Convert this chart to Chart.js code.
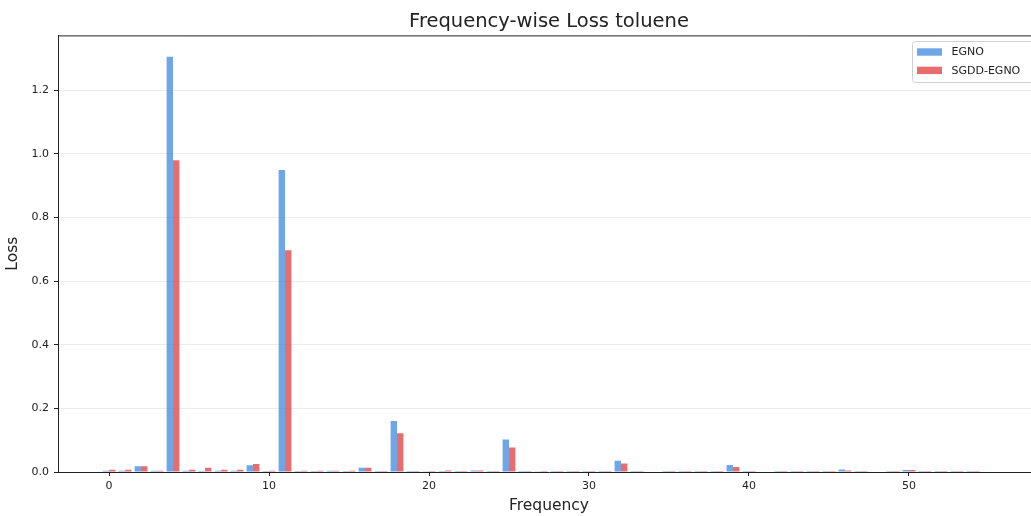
<!DOCTYPE html>
<html>
<head>
<meta charset="utf-8">
<script src="https://cdn.jsdelivr.net/npm/chart.js@4/dist/chart.umd.min.js"></script>
<style>
  html, body { margin: 0; padding: 0; background: #fff; overflow: hidden; }
  #wrap { width: 1040px; height: 516px; position: relative; }
</style>
</head>
<body>
<div id="wrap"><canvas id="chart"></canvas></div>
<script>
// frequency index 0..55, loss per frequency
const frequencies = [
  0, 1, 2, 3, 4, 5, 6, 7, 8, 9,
  10, 11, 12, 13, 14, 15, 16, 17, 18, 19,
  20, 21, 22, 23, 24, 25, 26, 27, 28, 29,
  30, 31, 32, 33, 34, 35, 36, 37, 38, 39,
  40, 41, 42, 43, 44, 45, 46, 47, 48, 49,
  50, 51, 52, 53, 54, 55,
];
const egnoLoss = [
  0.004, 0.004, 0.018, 0.004, 1.305, 0.004, 0.003, 0.004, 0.004, 0.021,
  0.003, 0.949, 0.003, 0.003, 0.004, 0.003, 0.013, 0.003, 0.160, 0.003,
  0.001, 0.003, 0.003, 0.005, 0.003, 0.102, 0.003, 0.002, 0.003, 0.003,
  0.003, 0.003, 0.035, 0.003, 0.000, 0.003, 0.003, 0.003, 0.003, 0.022,
  0.003, 0.000, 0.003, 0.003, 0.003, 0.003, 0.008, 0.003, 0.000, 0.003,
  0.006, 0.003, 0.003, 0.003, 0.003, 0.000,
];
const sgddLoss = [
  0.007, 0.007, 0.018, 0.004, 0.980, 0.007, 0.013, 0.007, 0.007, 0.025,
  0.004, 0.697, 0.004, 0.004, 0.004, 0.004, 0.013, 0.003, 0.122, 0.003,
  0.003, 0.005, 0.003, 0.005, 0.003, 0.077, 0.003, 0.003, 0.003, 0.003,
  0.003, 0.003, 0.027, 0.003, 0.000, 0.003, 0.003, 0.003, 0.003, 0.016,
  0.003, 0.000, 0.003, 0.003, 0.003, 0.003, 0.005, 0.003, 0.000, 0.003,
  0.006, 0.003, 0.003, 0.003, 0.003, 0.000,
];
const seriesNames = ['EGNO', 'SGDD-EGNO'];
const xTicks = [0, 10, 20, 30, 40, 50];
const yTicks = [0, 0.2, 0.4, 0.6, 0.8, 1.0, 1.2];

const COLORS = {
  egno: 'rgba(74, 144, 226, 0.8)',
  sgdd: 'rgba(226, 74, 74, 0.8)',
};
const FONT = 'DejaVu Sans';
const INK = '#222';

const toPoints = (vals) => vals.map((v, i) => ({ x: frequencies[i], y: v }));

// top/right spines + matplotlib style legend box
const framePlugin = {
  id: 'frame',
  afterDraw(chart) {
    const { ctx, chartArea: a } = chart;
    ctx.save();
    ctx.strokeStyle = INK;
    ctx.lineWidth = 1;
    ctx.beginPath();
    ctx.moveTo(a.left, a.top + 0.5);
    ctx.lineTo(a.right, a.top + 0.5);
    ctx.moveTo(a.right - 0.5, a.top);
    ctx.lineTo(a.right - 0.5, a.bottom);
    ctx.stroke();

    // legend
    const x0 = 912, y0 = 41, w = a.right - 5 - x0, h = 41;
    ctx.fillStyle = 'rgba(255,255,255,0.8)';
    ctx.strokeStyle = '#d0d0d0';
    ctx.beginPath();
    ctx.roundRect(x0 + 0.5, y0 + 0.5, w, h, 3);
    ctx.fill();
    ctx.stroke();
    ctx.font = `11px ${FONT}`;
    ctx.textBaseline = 'middle';
    ctx.textAlign = 'left';
    chart.data.datasets.forEach((ds, i) => {
      const cy = 52 + i * 18.4;
      ctx.fillStyle = ds.backgroundColor;
      ctx.fillRect(917, cy - 3.7, 25, 7.4);
      ctx.fillStyle = INK;
      ctx.fillText(ds.label, 951.5, cy + 0.5);
    });
    ctx.restore();
  },
};

new Chart(document.getElementById('chart'), {
  type: 'bar',
  data: {
    datasets: [
      { label: seriesNames[0], data: toPoints(egnoLoss), backgroundColor: COLORS.egno },
      { label: seriesNames[1], data: toPoints(sgddLoss), backgroundColor: COLORS.sgdd },
    ],
  },
  plugins: [framePlugin],
  options: {
    responsive: true,
    maintainAspectRatio: false,
    animation: false,
    layout: { padding: 0 },
    datasets: {
      bar: { categoryPercentage: 0.8, barPercentage: 1.0, borderWidth: 0 },
    },
    plugins: {
      legend: { display: false },
      tooltip: { enabled: false },
      title: {
        display: true,
        text: 'Frequency-wise Loss toluene',
        fullSize: false,
        color: INK,
        font: { family: FONT, size: 19.5, weight: 'normal' },
        padding: { top: 10, bottom: 2 },
      },
    },
    scales: {
      x: {
        type: 'linear',
        offset: false,
        min: -3.19,
        max: 58.19,
        afterBuildTicks: (scale) => { scale.ticks = xTicks.map((v) => ({ value: v })); },
        afterFit: (scale) => { scale.height = 44; },
        grid: { offset: false, drawOnChartArea: false, drawTicks: true, tickLength: 4, tickColor: INK },
        border: { display: true, color: INK, width: 1 },
        ticks: {
          color: INK,
          font: { family: FONT, size: 11 },
          padding: 4,
          maxRotation: 0,
          callback: (v) => String(v),
        },
        title: {
          display: true,
          text: 'Frequency',
          color: INK,
          font: { family: FONT, size: 15.5 },
          padding: { top: 0, bottom: 1 },
        },
      },
      y: {
        min: 0,
        max: 1.372,
        afterBuildTicks: (scale) => { scale.ticks = yTicks.map((v) => ({ value: v })); },
        afterFit: (scale) => { scale.width = 58; },
        grid: { color: '#ebebeb', drawTicks: true, tickLength: 4, tickColor: INK },
        border: { display: true, color: INK, width: 1 },
        ticks: {
          color: INK,
          font: { family: FONT, size: 11 },
          padding: 5,
          callback: (v) => v.toFixed(1),
        },
        title: {
          display: true,
          text: 'Loss',
          color: INK,
          font: { family: FONT, size: 15.5 },
          padding: { top: 4, bottom: 0 },
        },
      },
    },
  },
});
</script>
</body>
</html>
